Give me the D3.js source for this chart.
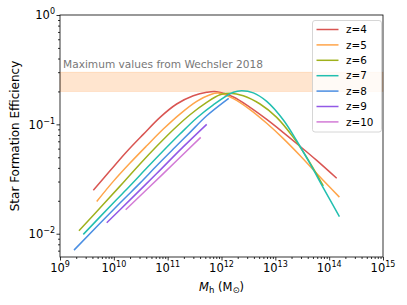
<!DOCTYPE html>
<html><head><meta charset="utf-8">
<script src="https://cdn.jsdelivr.net/npm/d3@7"></script>
<style>
body{margin:0;background:#fff;}
svg{display:block;font-family:"DejaVu Sans",sans-serif;}
</style></head>
<body><svg id="c" width="407" height="305"></svg>
<script>
// ---- data ----
const seriesNames = ["z=4","z=5","z=6","z=7","z=8","z=9","z=10"];
const seriesColors = ["#d95552","#ffa54a","#9fb11c","#22bfb0","#4b8fe3","#9259e6","#d37bd6"];
const massZ4 = [4.16e9,8.49e9,1.73e10,3.52e10,7.21e10,1.47e11,2.99e11,5.31e11,8.15e11,1.66e12,3.39e12,6.92e12,1.41e13,2.87e13,5.87e13,1.38e14];
const effZ4  = [0.0250,0.0376,0.0562,0.0810,0.1159,0.1535,0.1828,0.1963,0.1986,0.1778,0.1429,0.1109,0.0841,0.0631,0.0468,0.0321];
const massZ5 = [4.81e9,9.77e9,2.00e10,4.08e10,8.30e10,1.69e11,3.46e11,6.12e11,8.73e11,1.66e12,3.39e12,6.92e12,1.41e13,2.87e13,5.87e13,1.55e14];
const effZ5  = [0.0197,0.0301,0.0443,0.0637,0.0906,0.1242,0.1622,0.1866,0.1932,0.1718,0.1365,0.1023,0.0741,0.0519,0.0355,0.0216];
const massZ6 = [2.25e9,6.85e9,1.50e10,3.06e10,6.25e10,1.27e11,2.60e11,5.31e11,9.38e11,1.44e12,2.54e12,5.20e12,1.06e13,2.16e13,3.83e13,7.78e13];
const effZ6  = [0.01064,0.0193,0.0294,0.0434,0.0630,0.0893,0.1225,0.1589,0.1866,0.1923,0.1828,0.1535,0.1159,0.0760,0.0499,0.0274];
const massZ7 = [2.71e9,9.77e9,2.00e10,4.08e10,8.30e10,1.69e11,3.46e11,7.05e11,1.66e12,2.37e12,3.90e12,6.92e12,1.41e13,2.49e13,4.41e13,7.78e13,1.55e14];
const effZ7  = [0.00986,0.0191,0.0274,0.0398,0.0573,0.0815,0.1143,0.1510,0.1963,0.2028,0.1941,0.1622,0.1096,0.0708,0.0437,0.0263,0.0143];
const massZ8 = [1.82e9,1.30e10,3.06e10,6.25e10,1.27e11,2.60e11,5.31e11,1.36e12];
const effZ8  = [0.00708,0.0191,0.0290,0.0418,0.0594,0.0845,0.1199,0.1730];
const massZ9 = [7.38e9,2.00e10,6.25e10,1.82e11,5.31e11];
const effZ9  = [0.0126,0.0204,0.0355,0.0603,0.100];
const massZ10 = [1.66e10,7.94e10,4.11e11];
const effZ10  = [0.01656,0.0347,0.0760];
const bandRange = [0.2, 0.3];
const bandLabel = "Maximum values from Wechsler 2018";
const xTickExp = [9,10,11,12,13,14,15];
const yTickExp = [0,-1,-2];

const masses = [massZ4,massZ5,massZ6,massZ7,massZ8,massZ9,massZ10];
const effs = [effZ4,effZ5,effZ6,effZ7,effZ8,effZ9,effZ10];

// ---- layout ----
const L=60, R=383, T=15, B=257;
const svg = d3.select("#c");
const x = d3.scaleLog().domain([1e9,1e15]).range([L,R]);
const y = d3.scaleLog().domain([Math.pow(10,-2.213),1]).range([B,T]);

// band
svg.append("rect").attr("x",L).attr("width",R-L)
  .attr("y",y(bandRange[1])).attr("height",y(bandRange[0])-y(bandRange[1]))
  .attr("fill","#ff7f0e").attr("fill-opacity",0.2)
  .attr("stroke","#ff7f0e").attr("stroke-opacity",0.25).attr("stroke-width",0.6);
svg.append("text").attr("x",L+3).attr("y",y(bandRange[1])-4)
  .attr("font-size",10.6).attr("fill","#777").text(bandLabel);

// lines
const line = d3.line().x(d=>x(d[0])).y(d=>y(d[1])).curve(d3.curveCatmullRom.alpha(0.5));
masses.forEach((m,i)=>{
  const pts = m.map((v,j)=>[v,effs[i][j]]);
  svg.append("path").datum(pts).attr("d",line)
    .attr("fill","none").attr("stroke",seriesColors[i]).attr("stroke-width",1.5);
});

// axes
const minorX=[], minorY=[];
for(let e=9;e<15;e++) for(let k=2;k<10;k++) minorX.push(k*Math.pow(10,e));
for(let e=-3;e<0;e++) for(let k=2;k<10;k++){const v=k*Math.pow(10,e); if(v>=y.domain()[0]) minorY.push(v);}
const gx = svg.append("g").attr("transform",`translate(0,${B})`);
gx.call(d3.axisBottom(x).tickValues(xTickExp.map(e=>Math.pow(10,e))).tickSize(3.5).tickFormat(""));
const gxm = svg.append("g").attr("transform",`translate(0,${B})`);
gxm.call(d3.axisBottom(x).tickValues(minorX).tickSize(2).tickFormat(""));
const gy = svg.append("g").attr("transform",`translate(${L},0)`);
gy.call(d3.axisLeft(y).tickValues(yTickExp.map(e=>Math.pow(10,e))).tickSize(3.5).tickFormat(""));
const gym = svg.append("g").attr("transform",`translate(${L},0)`);
gym.call(d3.axisLeft(y).tickValues(minorY).tickSize(2).tickFormat(""));
[gx,gxm,gy,gym].forEach(g=>{g.select(".domain").remove(); g.selectAll("line").attr("stroke","#000").attr("stroke-width",0.8);});

// frame
svg.append("rect").attr("x",L).attr("y",T).attr("width",R-L).attr("height",B-T)
  .attr("fill","none").attr("stroke","#000").attr("stroke-width",0.8);

// tick labels
xTickExp.forEach(e=>{
  const t = svg.append("text").attr("x",x(Math.pow(10,e))).attr("y",B+15)
    .attr("text-anchor","middle").attr("font-size",11.5).attr("fill","#000");
  t.append("tspan").text("10");
  t.append("tspan").attr("dy",-5).attr("font-size",8).text(String(e));
});
yTickExp.forEach(e=>{
  const t = svg.append("text").attr("x",L-5).attr("y",y(Math.pow(10,e))+4.2)
    .attr("text-anchor","end").attr("font-size",11.5).attr("fill","#000");
  t.append("tspan").text("10");
  t.append("tspan").attr("dy",-5).attr("font-size",8).text(e<0?"\u2212"+(-e):String(e));
});

// axis titles
const xt = svg.append("text").attr("x",(L+R)/2).attr("y",290.5).attr("text-anchor","middle")
  .attr("font-size",11.5).attr("fill","#000");
xt.append("tspan").attr("font-style","italic").text("M");
xt.append("tspan").attr("dy",2.3).attr("font-size",8.5).text("h");
xt.append("tspan").attr("dy",-2.3).text(" (M");
xt.append("tspan").attr("dy",2.3).attr("font-size",8.5).text("\u2299");
xt.append("tspan").attr("dy",-2.3).text(")");
svg.append("text").attr("transform",`translate(19,${(T+B)/2}) rotate(-90)`)
  .attr("text-anchor","middle").attr("font-size",12).attr("fill","#000")
  .text("Star Formation Efficiency");

// legend
const lg = svg.append("g");
lg.append("rect").attr("x",312.5).attr("y",20.5).attr("width",69).attr("height",111.5)
  .attr("rx",2.5).attr("fill","#fff").attr("fill-opacity",0.8).attr("stroke","#ccc").attr("stroke-width",0.8);
seriesNames.forEach((n,i)=>{
  const yy = 29.5 + i*15.4;
  lg.append("line").attr("x1",316.5).attr("x2",338.5).attr("y1",yy).attr("y2",yy)
    .attr("stroke",seriesColors[i]).attr("stroke-width",1.5);
  lg.append("text").attr("x",346).attr("y",yy+3.7).attr("font-size",10.4).attr("fill","#000").text(n);
});
</script></body></html>
